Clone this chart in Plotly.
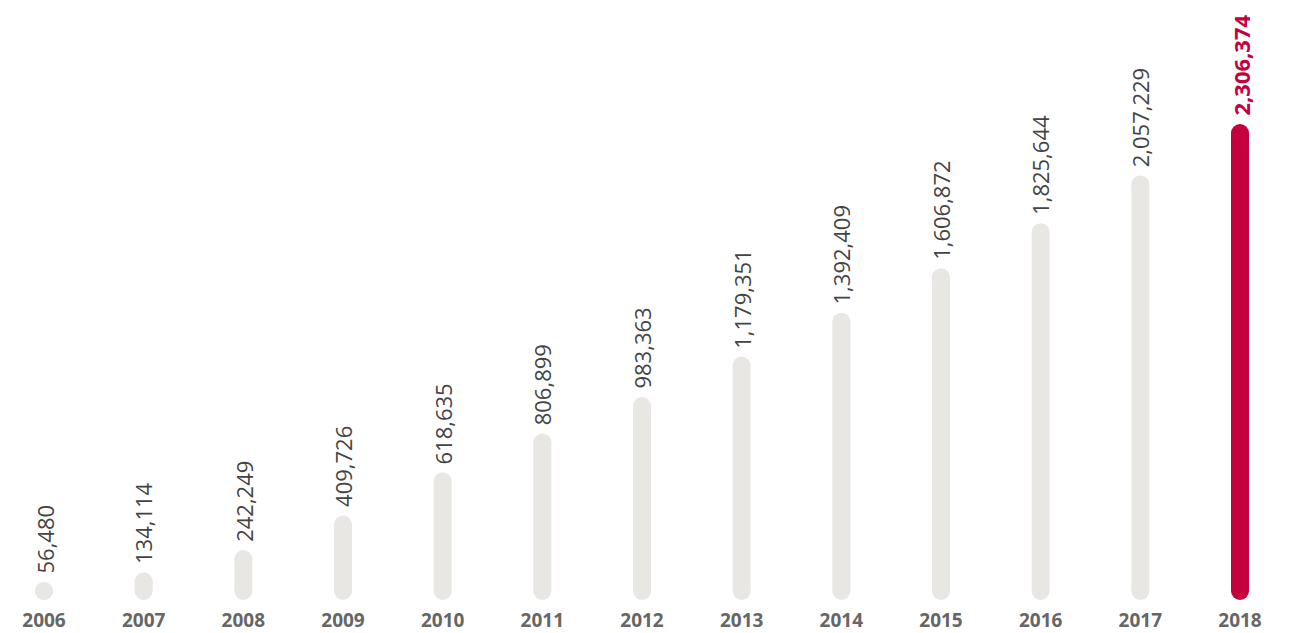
import plotly.graph_objects as go

years = ["2006", "2007", "2008", "2009", "2010", "2011", "2012",
         "2013", "2014", "2015", "2016", "2017", "2018"]
values = [56480, 134114, 242249, 409726, 618635, 806899, 983363,
          1179351, 1392409, 1606872, 1825644, 2057229, 2306374]
labels = [f"{v:,}" for v in values]

GREY = "#e8e7e3"
RED = "#c5003e"
TEXT = "#444444"
YEAR = "#666666"

# page body has an 8px margin, so the figure is drawn 8px in and 8px down
OFF = 8
W, H = 1289 - OFF, 633 - OFF
plot_h = 600 - OFF
px_per_cat = (1240 - 44) / 12
x_left = -(44 - OFF) / px_per_cat
x_right = 12 + (1289 - 1240) / px_per_cat
ymax = values[-1] * plot_h / 476
d_per_px = ymax / plot_h
PILL = 18
r_d = (PILL / 2) * d_per_px

xs = list(range(len(years)))
tops = [max(v, 2 * r_d) for v in values]

fig = go.Figure()


def pill_trace(idx, color):
    px, py = [], []
    for i in idx:
        px += [xs[i], xs[i], None]
        py += [r_d, tops[i] - r_d, None]
    return go.Scatter(
        x=px, y=py, mode="lines+markers",
        line=dict(color=color, width=PILL),
        marker=dict(color=color, size=PILL, line=dict(width=0)),
        hoverinfo="skip", connectgaps=False,
    )


fig.add_trace(pill_trace(range(len(xs) - 1), GREY))
fig.add_trace(pill_trace([len(xs) - 1], RED))

for i, (t, lab) in enumerate(zip(tops, labels)):
    last = i == len(values) - 1
    fig.add_annotation(
        x=i, y=t, text=lab, textangle=-90, showarrow=False,
        xanchor="center", yanchor="bottom", yshift=6,
        font=dict(family="Open Sans", size=22,
                  color=RED if last else TEXT,
                  weight="bold" if last else "normal"),
    )

fig.update_layout(
    width=W, height=H,
    margin=dict(l=0, r=0, t=0, b=H - plot_h, pad=0),
    plot_bgcolor="white", paper_bgcolor="white",
    showlegend=False,
    xaxis=dict(range=[x_left, x_right], tickvals=xs, ticktext=years,
               automargin=False,
               showgrid=False, zeroline=False, showline=False, ticks="",
               ticklabelstandoff=7,
               tickfont=dict(family="Open Sans", size=19, color=YEAR, weight="bold")),
    yaxis=dict(range=[0, ymax], visible=False, showgrid=False, zeroline=False,
               automargin=False),
)

fig.write_html("out.html")
